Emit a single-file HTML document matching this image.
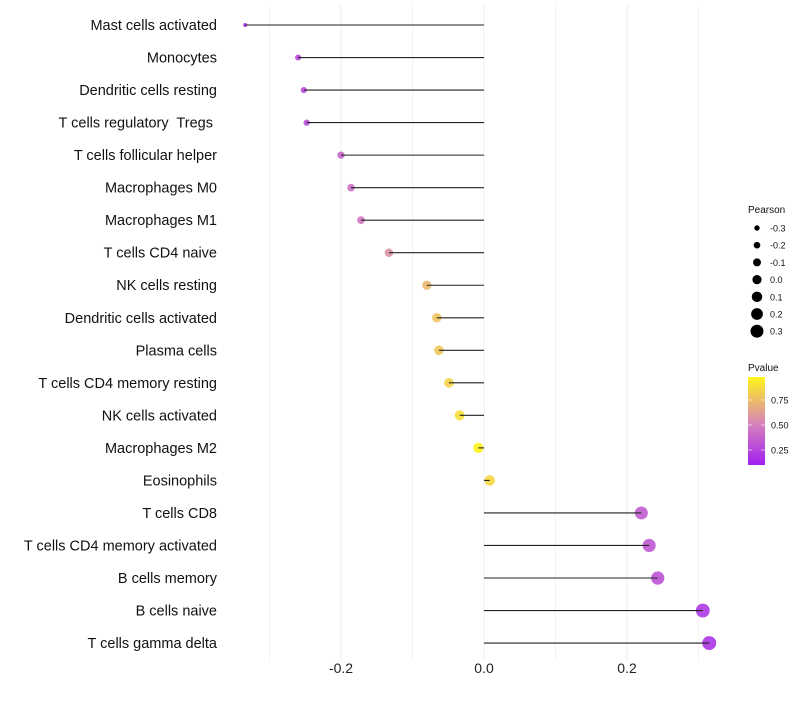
<!DOCTYPE html>
<html><head><meta charset="utf-8"><style>
body{margin:0;background:#fff;font-family:"Liberation Sans",sans-serif}
text{white-space:pre}
</style></head><body>
<svg id="c" width="800" height="700" xmlns="http://www.w3.org/2000/svg"></svg>
<script>
const categories=["Mast cells activated","Monocytes","Dendritic cells resting","T cells regulatory  Tregs ","T cells follicular helper","Macrophages M0","Macrophages M1","T cells CD4 naive","NK cells resting","Dendritic cells activated","Plasma cells","T cells CD4 memory resting","NK cells activated","Macrophages M2","Eosinophils","T cells CD8","T cells CD4 memory activated","B cells memory","B cells naive","T cells gamma delta"];
const pearson=[-0.334,-0.260,-0.252,-0.248,-0.200,-0.186,-0.172,-0.133,-0.080,-0.066,-0.063,-0.049,-0.034,-0.008,0.008,0.220,0.231,0.243,0.306,0.315];
const pvalues=[0.14,0.26,0.28,0.29,0.39,0.43,0.46,0.57,0.73,0.78,0.79,0.84,0.89,0.97,0.86,0.35,0.33,0.31,0.20,0.18];
const xTicks=[-0.2,0.0,0.2];
const sizeLegend=[-0.3,-0.2,-0.1,0.0,0.1,0.2,0.3];
const pTicks=[0.25,0.50,0.75];
const NS="http://www.w3.org/2000/svg",svg=document.getElementById('c');
const x=v=>484+v*715, y=i=>25+i*32.53;
const rad=v=>Math.sqrt(Math.max(2,27.1+69.3*v));
const lrad=v=>2.7+(v+0.3)/0.6*3.8;
const stops=[[0.10,[160,32,240]],[0.5,[214,128,190]],[0.98,[255,245,26]]];
function col(p){p=Math.max(0.1,Math.min(0.98,p));let a=stops[0],b=stops[1];if(p>stops[1][0]){a=stops[1];b=stops[2];}
const t=(p-a[0])/(b[0]-a[0]);return 'rgb('+a[1].map((c,k)=>Math.round(c+(b[1][k]-c)*t)).join(',')+')';}
function el(t,at,txt){const e=document.createElementNS(NS,t);for(const k in at)e.setAttribute(k,at[k]);if(txt!==undefined)e.textContent=txt;svg.appendChild(e);return e;}
[-0.3,-0.1,0.1,0.3].forEach(v=>{const g=el('line',{x1:x(v),x2:x(v),y1:5,y2:660,stroke:'#f3f3f3','stroke-width':1});

});
xTicks.forEach(v=>{const g=el('line',{x1:x(v),x2:x(v),y1:5,y2:660,stroke:'#ececec','stroke-width':1});


const t=el('text',{x:x(v),y:673,'text-anchor':'middle','font-size':14,fill:'#222'},v.toFixed(1));

});
categories.forEach((c,i)=>{
const t=el('text',{x:217,y:y(i)+5,'text-anchor':'end','font-size':14.5,fill:'#111'},c);


const d=el('circle',{cx:x(pearson[i]),cy:y(i),r:rad(pearson[i]),fill:col(pvalues[i]),'fill-opacity':0.9});


const l=el('line',{x1:x(0),x2:x(pearson[i]),y1:y(i),y2:y(i),stroke:'#222','stroke-width':1.1});


});
let t=el('text',{x:748,y:213,'font-size':10,fill:'#111'},'Pearson');


sizeLegend.forEach((v,i)=>{const cy=228+i*17.2;
const d=el('circle',{cx:757,cy:cy,r:lrad(v),fill:'#000'});


const s=el('text',{x:770,y:cy+3.5,'font-size':9,fill:'#111'},v.toFixed(1));

});
t=el('text',{x:748,y:371,'font-size':10,fill:'#111'},'Pvalue');


const defs=el('defs',{});const gr=document.createElementNS(NS,'linearGradient');gr.setAttribute('id','g');gr.setAttribute('x1',0);gr.setAttribute('y1',1);gr.setAttribute('x2',0);gr.setAttribute('y2',0);defs.appendChild(gr);
stops.forEach(s=>{const st=document.createElementNS(NS,'stop');st.setAttribute('offset',(s[0]-0.1)/0.88);st.setAttribute('stop-color',col(s[0]));gr.appendChild(st);});
const py=p=>400+(0.75-p)*100;
const bar=el('rect',{x:748,y:py(0.98),width:17,height:py(0.10)-py(0.98),fill:'url(#g)'});


pTicks.forEach(p=>{const s=el('text',{x:771,y:py(p)+3.5,'font-size':9,fill:'#111'},p.toFixed(2));


el('line',{x1:748,x2:752,y1:py(p),y2:py(p),stroke:'#fff','stroke-width':0.6});el('line',{x1:761,x2:765,y1:py(p),y2:py(p),stroke:'#fff','stroke-width':0.6});});
</script></body></html>
